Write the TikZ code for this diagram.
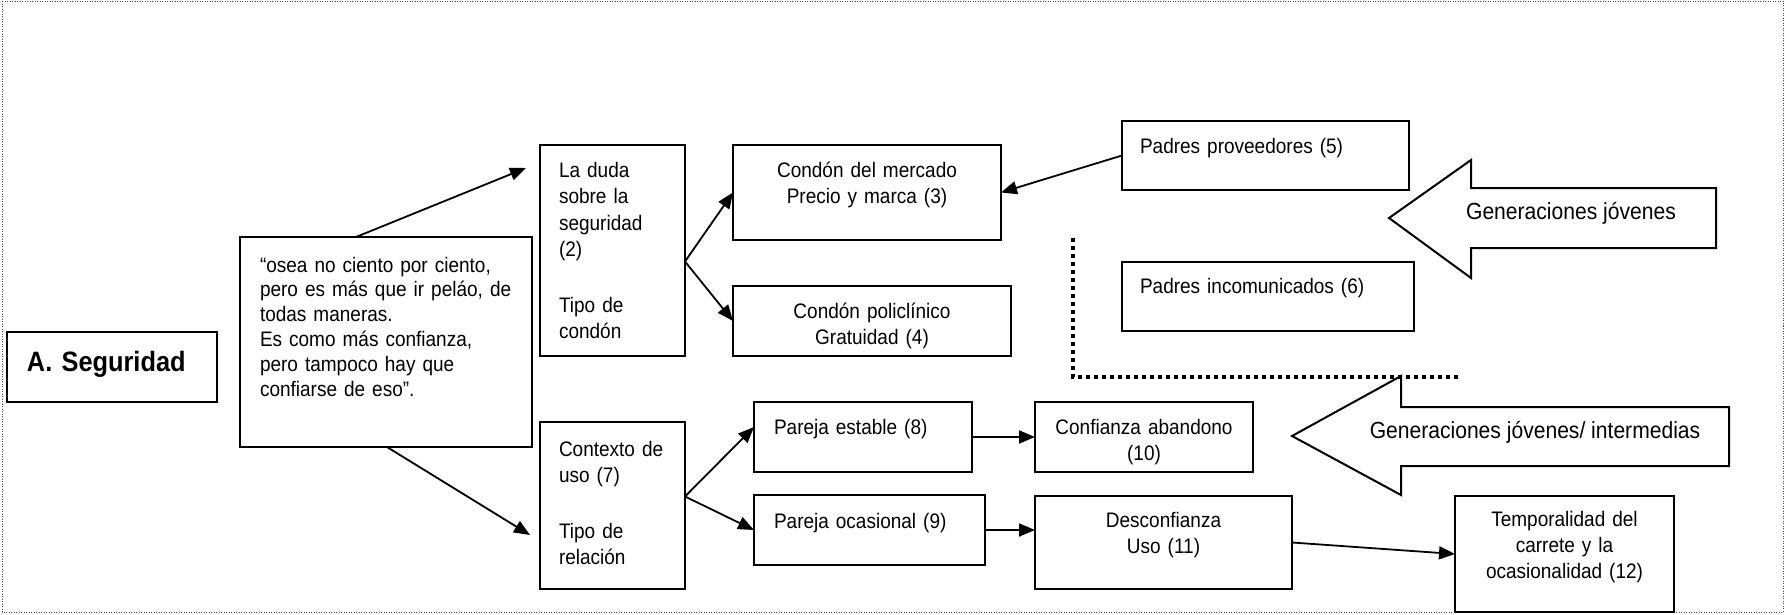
\documentclass[tikz,border=0pt]{standalone}
\usepackage{fontspec}
\setmainfont[FakeStretch=0.905]{Liberation Sans}
\usetikzlibrary{arrows.meta}

\newcommand\txt{\fontsize{21}{26.5}\selectfont}
\newcommand\txtgen{\fontsize{23.3}{27}\selectfont}
\newcommand\txttit{\fontsize{28}{33}\selectfont\bfseries}

\tikzset{
  caja/.style={draw, line width=2pt, anchor=north west, inner ysep=0pt, outer sep=0pt, font=\txt},
  izq/.style={align=left, inner xsep=20pt},
  cen/.style={align=center, inner xsep=5pt},
  flecha/.style={line width=1.8pt, -{Triangle[length=16pt,width=13pt]}},
  flechagrande/.style={line width=2pt, line join=miter},
  puntos/.style={line width=4pt, dash pattern=on 4pt off 4pt},
}

\begin{document}
\begin{tikzpicture}[x=1pt, y=-1pt]
\useasboundingbox (0,0) rectangle (1785,614);
\draw[line width=1pt, black!70, dash pattern=on 1pt off 1.5pt] (2,1) rectangle (1783,612);

\node[caja, izq, font=\txttit, text width=170pt, text height=39pt, text depth=31pt] (seg) at (7,332) {A. Seguridad};
\node[caja, izq, font=\fontsize{21}{24.8}\selectfont, text width=252pt, text height=35pt, text depth=175pt] (cita) at (240,237)
  {“osea no ciento por ciento,\\pero es más que ir peláo, de\\todas maneras.\\Es como más confianza,\\pero tampoco hay que\\confiarse de eso”.};

\node[caja, izq, inner xsep=19pt, text width=107pt, text height=32pt, text depth=179pt] (duda) at (540,145)
  {La duda\\sobre la\\seguridad\\(2)\\[29pt]Tipo de\\condón};
\node[caja, izq, inner xsep=19pt, text width=107pt, text height=34pt, text depth=133pt] (contexto) at (540,422)
  {Contexto de\\uso (7)\\[29pt]Tipo de\\relación};

\node[caja, cen, text width=258pt, text height=32pt, text depth=63pt] (mercado) at (733,145) {Condón del mercado\\Precio y marca (3)};
\node[caja, cen, text width=268pt, text height=32pt, text depth=38pt] (policlinico) at (733,286) {Condón policlínico\\Gratuidad (4)};

\node[caja, izq, inner xsep=18pt, text width=251pt, text height=32pt, text depth=37pt] (prov) at (1122,121) {Padres proveedores (5)};
\node[caja, izq, inner xsep=18pt, text width=256pt, text height=31pt, text depth=38pt] (incom) at (1122,262) {Padres incomunicados (6)};

\node[caja, izq, text width=178pt, text height=32pt, text depth=38pt] (estable) at (754,402) {Pareja estable (8)};
\node[caja, izq, text width=191pt, text height=33pt, text depth=37pt] (ocasional) at (754,495) {Pareja ocasional (9)};
\node[caja, cen, text width=208pt, text height=32pt, text depth=38pt] (confianza) at (1035,402) {Confianza abandono\\(10)};
\node[caja, cen, text width=247pt, text height=31pt, text depth=62pt] (desconf) at (1035,496) {Desconfianza\\Uso (11)};
\node[caja, cen, font=\fontsize{21}{26}\selectfont, text width=209pt, text height=30pt, text depth=86pt] (temp) at (1455,496)
  {Temporalidad del\\carrete y la\\ocasionalidad (12)};

\draw[flechagrande] (1389,218) -- (1471,160) -- (1471,188) -- (1716,188) -- (1716,248) -- (1471,248) -- (1471,278) -- cycle;
\node[font=\txtgen] (jov) at (1571,213) {Generaciones jóvenes};
\draw[flechagrande] (1292,436) -- (1401,376) -- (1401,407) -- (1729,407) -- (1729,466) -- (1401,466) -- (1401,495) -- cycle;
\node[font=\txtgen] (inter) at (1535,432) {Generaciones jóvenes/ intermedias};

\draw[puntos] (1073,238) -- (1073,377) -- (1459,377);

\coordinate (pA) at (526,168);
\coordinate (pB) at (530,535);
\draw[flecha] ([xshift=116pt]cita.north west) -- (pA);
\draw[flecha] ([xshift=147pt]cita.south west) -- (pB);
\foreach \t in {mercado, policlinico}
  \draw[flecha] ([yshift=-11pt]duda.east) -- (\t.west);
\foreach \t/\s in {estable/10, ocasional/0}
  \draw[flecha] ([yshift=9pt]contexto.east) -- ([yshift=\s pt]\t.west);
\draw[flecha] (prov.west) -- (mercado.east);
\draw[flecha] (estable.east) -- (confianza.west);
\draw[flecha] (ocasional.east) -- (ocasional.east -| desconf.west);
\draw[flecha] (desconf.east) -- (temp.west);
\end{tikzpicture}
\end{document}
